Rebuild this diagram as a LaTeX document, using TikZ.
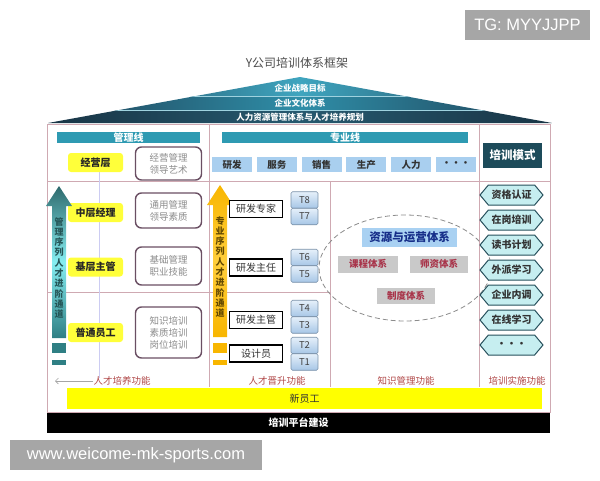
\documentclass[tikz,border=0pt]{standalone}
\usepackage{fontspec}
\newfontfamily\cjk{Noto Sans CJK SC}
\newfontfamily\wmfont{Liberation Sans}
\newcommand\tightlines{\lineskiplimit=-100pt\relax}
\usetikzlibrary{shapes.symbols,arrows.meta}
\begin{document}
\begin{tikzpicture}[x=1pt,y=-1pt,
    every node/.style={inner sep=0pt, font=\cjk\fontsize{9.5}{10}\selectfont},
    headbar/.style={fill=headteal, text=white, minimum height=11pt,
        font=\cjk\bfseries\fontsize{10}{10}\selectfont},
    roofband/.style={text=white, font=\cjk\bfseries\fontsize{8.5}{9}\selectfont},
    levelbox/.style={fill=lvlyellow, rounded corners=3pt, minimum width=55pt,
        minimum height=19pt, text=black!85, font=\cjk\bfseries\fontsize{10}{10}\selectfont},
    skillbox/.style={draw=skillborder, line width=1.4pt, rounded corners=6pt, fill=white,
        minimum width=66pt, text=black!45, align=center,
        font=\cjk\fontsize{9.5}{12}\selectfont\tightlines},
    funcbox/.style={fill=funcblue, minimum width=40pt, minimum height=15pt,
        text=black!80, font=\cjk\bfseries\fontsize{9.5}{10}\selectfont},
    postbox/.style={draw=black, line width=1.5pt, fill=white, minimum width=53pt,
        minimum height=17pt, text=black!80, font=\cjk\fontsize{10}{10}\selectfont},
    tbox/.style={draw=tborder, line width=0.6pt, rounded corners=1.5pt,
        top color=ttop, bottom color=tbottom, minimum width=27pt, minimum height=16.5pt,
        text=black!75, font=\cjk\fontsize{9.5}{10}\selectfont},
    resbox/.style={fill=resgray, minimum height=17pt, text=resred,
        font=\cjk\bfseries\fontsize{9.5}{10}\selectfont},
    modebox/.style={signal, signal to=east and west, signal pointer angle=100,
        draw=modeborder, line width=1pt, fill=modecyan, minimum width=63pt,
        minimum height=20pt, text=black!80, font=\cjk\bfseries\fontsize{10}{10}\selectfont},
    funclabel/.style={text=labelred, font=\cjk\fontsize{9.5}{10}\selectfont},
    pathtext/.style={align=center, font=\cjk\bfseries\fontsize{9}{10.3}\selectfont\tightlines},
    frameline/.style={draw=framepink, line width=0.8pt},
    watermark/.style={fill=wmgray, text=white, font=\wmfont\fontsize{16.5}{18}\selectfont},
]
    % Define colors
    \definecolor{roofdark}{HTML}{1F4257}
    \definecolor{roofA}{HTML}{3FA5BF}
    \definecolor{roofB}{HTML}{2F8EA8}
    \definecolor{roofC}{HTML}{26596F}
    \definecolor{headteal}{HTML}{2E9AB2}
    \definecolor{lvlyellow}{HTML}{FFFF3A}
    \definecolor{skillborder}{HTML}{6A4F63}
    \definecolor{funcblue}{HTML}{A9CFEF}
    \definecolor{tborder}{HTML}{7890A8}
    \definecolor{ttop}{HTML}{E6F0FA}
    \definecolor{tbottom}{HTML}{A6C6E6}
    \definecolor{resgray}{HTML}{C9C9C9}
    \definecolor{resred}{HTML}{A8344A}
    \definecolor{resblue}{HTML}{A9D1F2}
    \definecolor{modecyan}{HTML}{C6EEF0}
    \definecolor{modeborder}{HTML}{27505C}
    \definecolor{modedark}{HTML}{1D4B5A}
    \definecolor{labelred}{HTML}{B04848}
    \definecolor{framepink}{HTML}{CFA9B2}
    \definecolor{newyellow}{HTML}{FFFF00}
    \definecolor{wmgray}{HTML}{A6A6A6}
    \definecolor{tealtop}{HTML}{2E6A6D}
    \definecolor{tealmid}{HTML}{86EEF2}
    \definecolor{tealbot}{HTML}{2F7F84}
    \definecolor{orangetop}{HTML}{F8B600}
    \definecolor{orangemid}{HTML}{FFCE3C}

    \useasboundingbox (0,0) rectangle (600,480);

    % Title
    \node[text=black!70, font=\cjk\fontsize{12}{12}\selectfont] (title) at (297,63) {Y公司培训体系框架};

    % Draw roof
    \begin{scope}
        \clip (48,123) -- (300,77) -- (552,123) -- cycle;
        \shade[left color=roofdark, right color=roofdark, middle color=roofA] (48,77) rectangle (552,96);
        \shade[left color=roofdark, right color=roofdark, middle color=roofB] (48,96) rectangle (552,110);
        \shade[left color=roofdark!80!black, right color=roofdark!80!black, middle color=roofC] (48,110) rectangle (552,123);
        \draw[roofA!50!white, line width=0.6pt] (48,96) -- (552,96) (48,110) -- (552,110);
    \end{scope}
    \node[roofband] (goal) at (300,88) {企业战略目标};
    \node[roofband] (culture) at (300,103) {企业文化体系};
    \node[roofband] (hrplan) at (300,117) {人力资源管理体系与人才培养规划};

    % Draw frame
    \draw[frameline] (47,124) rectangle (550,412);
    \draw[frameline] (209,124) -- (209,387);
    \draw[frameline] (479,124) -- (479,387);
    \draw[frameline] (330,181) -- (330,387);
    \draw[frameline] (47,181) -- (550,181);
    \draw[frameline] (47,292) -- (330,292);
    \draw[black!25!blue!20!white, line width=0.6pt] (99,172) -- (99,378);

    % Headers
    \node[headbar, minimum width=143pt] (mgrhead) at (128.5,137.5) {管理线};
    \node[headbar, minimum width=246pt] (prohead) at (345,137.5) {专业线};

    % Management line
    \node[levelbox] (lvltop) at (95.5,162.5) {经营层};
    \node[levelbox] (lvlmid) at (95.5,212.5) {中层经理};
    \node[levelbox] (lvlbase) at (95.5,267) {基层主管};
    \node[levelbox] (lvlstaff) at (95.5,332.5) {普通员工};
    \node[skillbox, minimum height=33pt] (skilltop) at (168.5,163.5) {经营管理\\领导艺术};
    \node[skillbox, minimum height=35pt] (skillmid) at (168.5,210.5) {通用管理\\领导素质};
    \node[skillbox, minimum height=38pt] (skillbase) at (168.5,266) {基础管理\\职业技能};
    \node[skillbox, minimum height=51pt] (skillstaff) at (168.5,332.5) {知识培训\\素质培训\\岗位培训};

    % Management path arrow
    \shade[top color=tealtop, bottom color=tealbot, middle color=tealmid]
        (59,186) -- (72,206) -- (66,206) -- (66,338) -- (52,338) -- (52,206) -- (46,206) -- cycle;
    \fill[tealbot] (52,343) rectangle (66,353);
    \fill[tealbot] (52,360) rectangle (66,365);
    \node[pathtext, text=tealtop!80!black] (mgrpath) at (59,268) {管\\理\\序\\列\\人\\才\\进\\阶\\通\\道};

    % Professional path arrow
    \shade[top color=orangetop, bottom color=orangetop, middle color=orangemid]
        (220,185) -- (233,205) -- (227,205) -- (227,337) -- (213,337) -- (213,205) -- (207,205) -- cycle;
    \fill[orangetop] (213,343) rectangle (227,353);
    \fill[orangetop] (213,360) rectangle (227,365);
    \node[pathtext, text=orangetop!40!black] (propath) at (220,267) {专\\业\\序\\列\\人\\才\\进\\阶\\通\\道};

    % Functions
    \foreach \fname [count=\i] in {研发,服务,销售,生产,人力,···} {
        \node[funcbox] (func\i) at ({232+44.8*(\i-1)},164.5) {\fname};
    }

    % Posts and grades
    \node[postbox] (expert) at (256,209) {研发专家};
    \node[postbox] (director) at (256,267.5) {研发主任};
    \node[postbox] (supervisor) at (256,320) {研发主管};
    \node[postbox] (designer) at (256,353.5) {设计员};
    \foreach \t/\y in {8/200,7/216.5,6/257.5,5/274,4/308.5,3/325,2/345.5,1/362} {
        \node[tbox] (t\t) at (304.5,\y) {T\t};
    }

    % Resources
    \draw[black!45, line width=0.8pt, dash pattern=on 5pt off 3pt] (405,268) ellipse [x radius=86, y radius=53];
    \node[fill=resblue, minimum width=95pt, minimum height=19pt, text=roofdark!70!blue,
        font=\cjk\bfseries\fontsize{11.5}{12}\selectfont] (resource) at (409.5,237.5) {资源与运营体系};
    \node[resbox, minimum width=60pt] (course) at (368,264) {课程体系};
    \node[resbox, minimum width=58pt] (teacher) at (439,264) {师资体系};
    \node[resbox, minimum width=58pt, minimum height=16pt] (rules) at (406,295.5) {制度体系};

    % Training modes
    \node[fill=modedark, minimum width=59pt, minimum height=25pt, text=white,
        font=\cjk\bfseries\fontsize{11.5}{12}\selectfont] (modehead) at (512.5,155.5) {培训模式};
    \foreach \m [count=\i] in {资格认证,在岗培训,读书计划,外派学习,企业内调,在线学习,···} {
        \node[modebox] (mode\i) at (511.5,{195+25*(\i-1)}) {\m};
    }

    % Function labels
    \node[funclabel] (lbltrain) at (122,381) {人才培养功能};
    \node[funclabel] (lblpromo) at (277,381) {人才晋升功能};
    \node[funclabel] (lblknow) at (406,381) {知识管理功能};
    \node[funclabel] (lblimpl) at (517,381) {培训实施功能};
    \coordinate (arrowend) at (55,381);
    \draw[black!35, line width=0.6pt, -{Straight Barb[length=3pt,width=6pt]}] (lbltrain.west) -- (arrowend);

    % Base bars
    \node[fill=newyellow, minimum width=475pt, minimum height=21pt, text=black!80,
        font=\cjk\fontsize{10}{10}\selectfont] (newstaff) at (304.5,398.5) {新员工};
    \node[fill=black, minimum width=503pt, minimum height=20pt, text=white,
        font=\cjk\bfseries\fontsize{10}{10}\selectfont] (platform) at (298.5,422.5) {培训平台建设};

    % Watermarks
    \node[watermark, minimum width=125pt, minimum height=30pt] (tgmark) at (527.5,25) {TG: MYYJJPP};
    \node[watermark, minimum width=252pt, minimum height=30pt] (webmark) at (136,455) {www.weicome-mk-sports.com};
\end{tikzpicture}
\end{document}
